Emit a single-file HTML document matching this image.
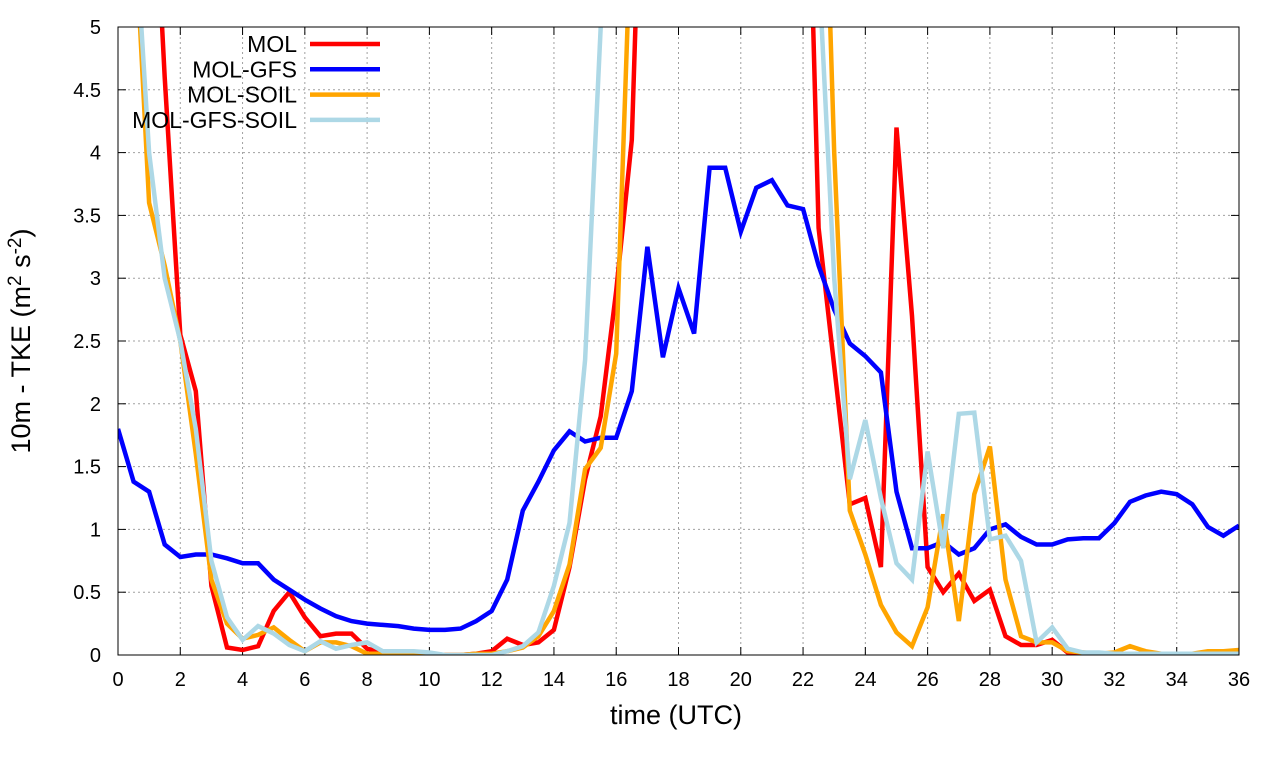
<!DOCTYPE html>
<html><head><meta charset="utf-8"><style>body{margin:0;background:#fff}svg{display:block;font-family:"Liberation Sans",sans-serif}</style></head>
<body>
<svg id="chart" width="1280" height="760"></svg>
<script>
const hours=[];for(let i=0;i<=72;i++)hours.push(i/2);
const molValues=[12,10,7,4.6,2.55,2.1,0.55,0.06,0.04,0.07,0.35,0.5,0.3,0.15,0.17,0.17,0.05,0.02,0.01,0.01,0.01,0,0,0.01,0.03,0.13,0.08,0.1,0.2,0.7,1.4,1.9,2.9,4.1,8,8,8,8,8,8,8,8,8,8,8,3.4,2.3,1.2,1.25,0.7,4.2,2.7,0.7,0.5,0.65,0.43,0.52,0.15,0.08,0.08,0.12,0.02,0.01,0.01,0.01,0.01,0.01,0.01,0.01,0.01,0.01,0.01,0.01];
const molGfsValues=[1.8,1.38,1.3,0.88,0.78,0.8,0.8,0.77,0.73,0.73,0.6,0.52,0.44,0.37,0.31,0.27,0.25,0.24,0.23,0.21,0.2,0.2,0.21,0.27,0.35,0.6,1.15,1.38,1.63,1.78,1.7,1.73,1.73,2.1,3.25,2.37,2.92,2.56,3.88,3.88,3.37,3.72,3.78,3.58,3.55,3.1,2.75,2.48,2.38,2.25,1.3,0.85,0.85,0.9,0.8,0.85,1.0,1.04,0.94,0.88,0.88,0.92,0.93,0.93,1.05,1.22,1.27,1.3,1.28,1.2,1.02,0.95,1.03];
const molSoilValues=[9,6,3.6,3.1,2.5,1.6,0.6,0.25,0.13,0.16,0.22,0.12,0.03,0.1,0.1,0.07,0.01,0.01,0.01,0.02,0.01,0,0,0.01,0.01,0.03,0.06,0.15,0.35,0.72,1.48,1.65,2.4,6,8,8,8,8,8,8,8,8,8,8,8,8,4.0,1.15,0.8,0.4,0.18,0.07,0.38,1.12,0.27,1.28,1.66,0.6,0.15,0.1,0.1,0.03,0.02,0.01,0.02,0.07,0.03,0.01,0.01,0.01,0.03,0.03,0.04];
const molGfsSoilValues=[9,6,4.0,3.0,2.5,1.8,0.75,0.3,0.12,0.23,0.17,0.08,0.03,0.11,0.05,0.08,0.1,0.03,0.03,0.03,0.02,0,0,0,0,0.03,0.07,0.18,0.55,1.05,2.35,5,8,8,8,8,8,8,8,8,8,8,8,8,8,5.5,3.0,1.4,1.87,1.25,0.73,0.6,1.62,0.85,1.92,1.93,0.92,0.95,0.75,0.1,0.22,0.05,0.02,0.02,0.01,0.01,0.01,0.01,0.01,0.01,0.01,0.01,0.01];
const xTicks=[0,2,4,6,8,10,12,14,16,18,20,22,24,26,28,30,32,34,36];
const yTicks=[0,0.5,1,1.5,2,2.5,3,3.5,4,4.5,5];
const yTickLabels=["0","0.5","1","1.5","2","2.5","3","3.5","4","4.5","5"];
const seriesNames=["MOL","MOL-GFS","MOL-SOIL","MOL-GFS-SOIL"];
const seriesColors=["#ff0000","#0000ff","#ffa500","#add8e6"];
const L=118,R=1239,T=27,B=655;
const xs=v=>L+(R-L)*v/36, ys=v=>B-(B-T)*v/5;
const svg=document.getElementById('chart');const NS='http://www.w3.org/2000/svg';
function mk(t,a,p){const e=document.createElementNS(NS,t);for(const k in a)e.setAttribute(k,a[k]);(p||svg).appendChild(e);return e;}
const defs=mk('defs',{});const cp=mk('clipPath',{id:'clip'},defs);mk('rect',{x:L,y:T,width:R-L,height:B-T},cp);
const grid=mk('g',{});


xTicks.forEach(v=>{
 if(v>0&&v<36){mk('line',{x1:xs(v),x2:xs(v),y1:T,y2:B,stroke:'#a0a0a0','stroke-dasharray':'2,3'},grid);}
 const t=mk('text',{x:xs(v),y:686,'text-anchor':'middle','font-size':20});t.textContent=v;
 
 
 mk('line',{x1:xs(v),x2:xs(v),y1:B,y2:B-8,stroke:'#000'});mk('line',{x1:xs(v),x2:xs(v),y1:T,y2:T+8,stroke:'#000'});
});
yTicks.forEach((v,i)=>{
 if(v>0&&v<5)mk('line',{x1:L,x2:R,y1:ys(v),y2:ys(v),stroke:'#a0a0a0','stroke-dasharray':'2,3'},grid);
 const t=mk('text',{x:101,y:ys(v)+7,'text-anchor':'end','font-size':20});t.textContent=yTickLabels[i];
 
 
 mk('line',{x1:L,x2:L+8,y1:ys(v),y2:ys(v),stroke:'#000'});mk('line',{x1:R,x2:R-8,y1:ys(v),y2:ys(v),stroke:'#000'});
});
[molValues,molGfsValues,molSoilValues,molGfsSoilValues].forEach((vals,si)=>{
 const p=mk('path',{d:vals.map((v,i)=>(i?'L':'M')+xs(hours[i]).toFixed(1)+','+ys(v).toFixed(1)).join(''),fill:'none',stroke:seriesColors[si],'stroke-width':4.5,'stroke-linejoin':'miter','clip-path':'url(#clip)'});
 
 
});
const frame=mk('rect',{x:L,y:T,width:R-L,height:B-T,fill:'none',stroke:'#000'});


seriesNames.forEach((n,i)=>{
 const y=44+i*25.3;
 const t=mk('text',{x:297,y:y+8,'text-anchor':'end','font-size':23});t.textContent=n;
 
 
 const l=mk('line',{x1:310,x2:380,y1:y,y2:y,stroke:seriesColors[i],'stroke-width':4.5});
 
 
});
const xt=mk('text',{x:676,y:724,'text-anchor':'middle','font-size':27});xt.textContent='time (UTC)';


const yt=mk('text',{x:0,y:0,'text-anchor':'middle','font-size':27,transform:'translate(30,341) rotate(-90)'});
yt.innerHTML='10m - TKE (m<tspan dy="-9" font-size="19">2</tspan><tspan dy="9"> s</tspan><tspan dy="-9" font-size="19">-2</tspan><tspan dy="9">)</tspan>';


</script>
</body></html>
